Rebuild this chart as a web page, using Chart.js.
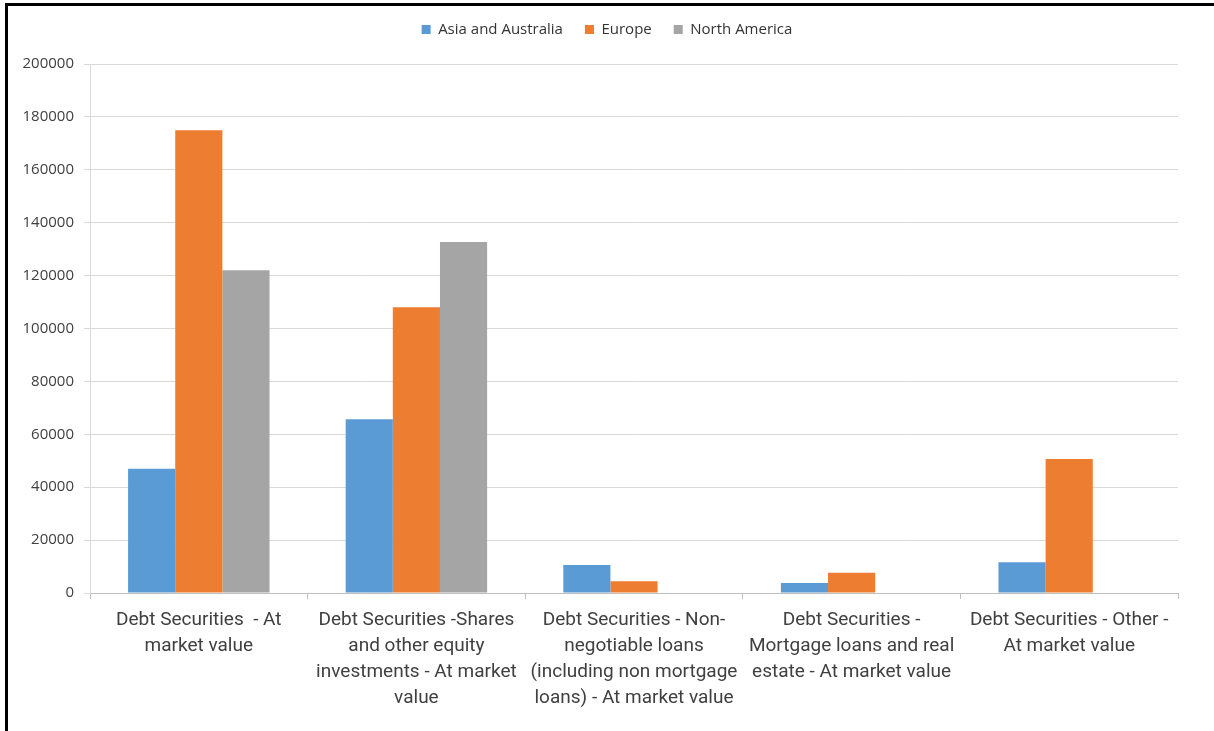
<!DOCTYPE html>
<html>
<head>
<meta charset="utf-8">
<script src="https://cdn.jsdelivr.net/npm/chart.js@4/dist/chart.umd.min.js"></script>
<style>
  html, body { margin: 0; padding: 0; background: #fff; }
  #wrap { position: relative; width: 1214px; height: 731px; }
  #frame { position: absolute; left: 5px; top: 3px; right: -10px; bottom: -10px;
           border-top: 3px solid #000; border-left: 3px solid #000; pointer-events: none; }
  canvas { position: absolute; left: 0; top: 0; }
</style>
</head>
<body>
<div id="wrap">
  <canvas id="c" width="1214" height="731"></canvas>
  <div id="frame"></div>
</div>
<script>
const categories = [
  ["Debt Securities  - At", "market value"],
  ["Debt Securities -Shares", "and other equity", "investments - At market", "value"],
  ["Debt Securities - Non-", "negotiable loans", "(including non mortgage", "loans) - At market value"],
  ["Debt Securities -", "Mortgage loans and real", "estate - At market value"],
  ["Debt Securities - Other -", "At market value"]
];
const seriesNames = ["Asia and Australia", "Europe", "North America"];
const asiaAustralia = [47000, 65700, 10600, 3800, 11600];
const europe = [175000, 108000, 4400, 7700, 50700];
const northAmerica = [122000, 132700, 0, 0, 0];
const seriesColors = ["#5b9bd5", "#ed7d31", "#a5a5a5"];
const yTicks = [0, 20000, 40000, 60000, 80000, 100000, 120000, 140000, 160000, 180000, 200000];

const legendFix = {
  id: 'legendFix',
  beforeLayout(chart) {
    const lg = chart.legend;
    if (lg && !lg._patched) {
      const orig = lg.fit;
      lg.fit = function () { orig.call(this); this.height = 64; };
      lg._patched = true;
    }
  },
  afterLayout(chart) {
    const lg = chart.legend;
    if (lg) { lg.left = 0; lg.right = chart.width; lg.width = lg.right - lg.left; }
  }
};

new Chart(document.getElementById('c'), {
  type: 'bar',
  data: {
    labels: categories,
    datasets: [
      { label: seriesNames[0], data: asiaAustralia, backgroundColor: seriesColors[0] },
      { label: seriesNames[1], data: europe, backgroundColor: seriesColors[1] },
      { label: seriesNames[2], data: northAmerica, backgroundColor: seriesColors[2] }
    ]
  },
  options: {
    responsive: false,
    animation: false,
    devicePixelRatio: 1,
    layout: { padding: { left: 0, right: 36, top: 0, bottom: 0 } },
    datasets: { bar: { barPercentage: 1.0, categoryPercentage: 0.65 } },
    plugins: {
      legend: {
        position: 'top',
        labels: {
          boxWidth: 9, boxHeight: 9, padding: 22,
          color: '#333333',
          font: { family: "'Open Sans', sans-serif", size: 15 }
        }
      },
      tooltip: { enabled: false }
    },
    scales: {
      x: {
        grid: { offset: true, drawOnChartArea: false, drawTicks: true, tickLength: 6, color: '#bfbfbf' },
        border: { color: '#bfbfbf', width: 1 },
        ticks: {
          maxRotation: 0, minRotation: 0, autoSkip: false, padding: 8,
          color: '#404040',
          font: { family: "'Roboto', sans-serif", size: 19, lineHeight: 1.37 }
        },
        afterFit(scale) { scale.height = 138; }
      },
      y: {
        min: 0, max: 200000,
        afterBuildTicks(scale) { scale.ticks = yTicks.map(v => ({ value: v })); },
        grid: { color: '#d9d9d9', lineWidth: 1, tickLength: 6, drawTicks: true },
        border: { color: '#d9d9d9', width: 1 },
        ticks: {
          padding: 10,
          color: '#404040',
          font: { family: "'Open Sans', sans-serif", size: 15 },
          callback: v => String(v)
        },
        afterFit(scale) { scale.width = 90; }
      }
    }
  },
  plugins: [legendFix]
});
</script>
</body>
</html>
